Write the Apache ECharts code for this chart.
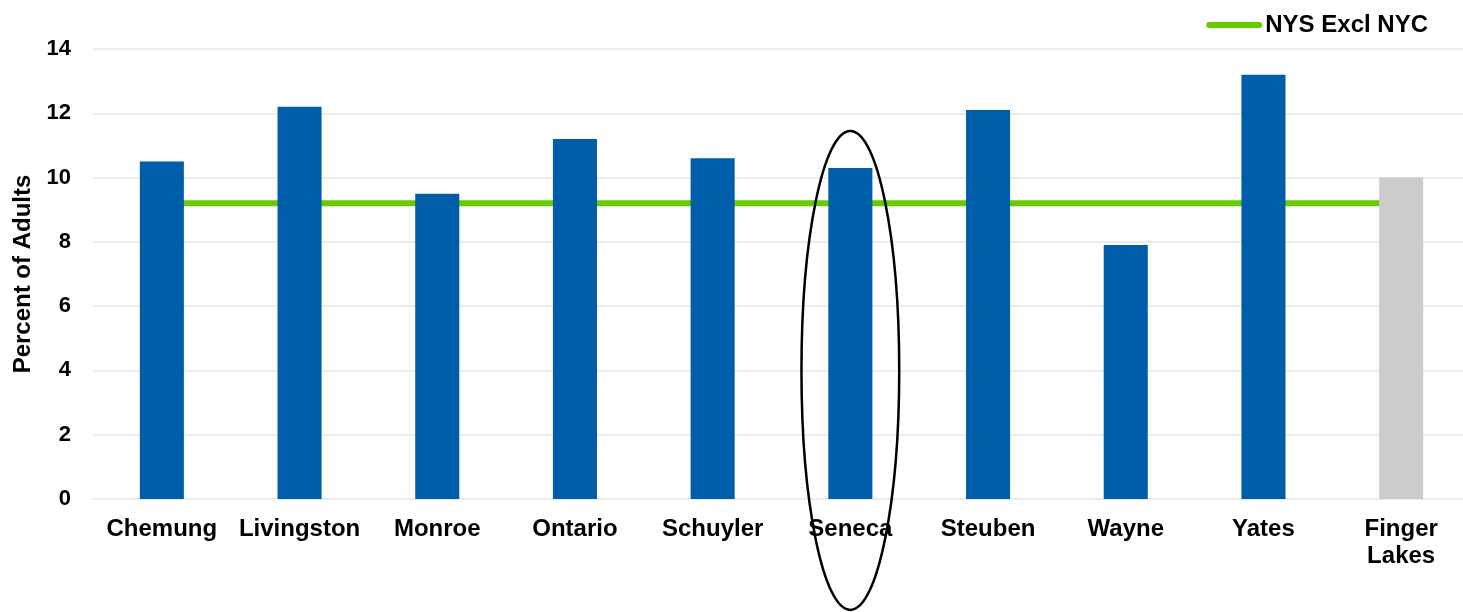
<!DOCTYPE html>
<html>
<head>
<meta charset="utf-8">
<title>Percent of Adults by County</title>
<script src="https://cdn.jsdelivr.net/npm/echarts@6/dist/echarts.min.js"></script>
<style>
  html, body { margin: 0; padding: 0; background: #ffffff; }
  #chart { width: 1463px; height: 612px; }
</style>
</head>
<body>
<div id="chart"></div>
<script>
// Counties of the Finger Lakes region plus the regional total
const categories = ['Chemung', 'Livingston', 'Monroe', 'Ontario', 'Schuyler', 'Seneca', 'Steuben', 'Wayne', 'Yates', 'Finger\nLakes'];
// Percent of adults per county
const countyValues = [10.5, 12.2, 9.5, 11.2, 10.6, 10.3, 12.1, 7.9, 13.2, 10.0];
// Statewide benchmark (New York State excluding NYC)
const nysExclNycValue = 9.2;
const benchmarkValues = categories.map(() => nysExclNycValue);
const yTicks = [0, 2, 4, 6, 8, 10, 12, 14];
// Highlighted county and the vertical span of its outline (in axis units)
const highlighted = 'Seneca';
const highlightSpan = [-3.45, 11.45];

const BLUE = '#005DAA';
const GREY = '#CCCCCC';
const GREEN = '#66CC00';
const FONT = '"Liberation Sans", Arial, sans-serif';

const chart = echarts.init(document.getElementById('chart'), null, { renderer: 'canvas' });

const barData = countyValues.map((v, i) => ({
  value: v,
  itemStyle: { color: i === countyValues.length - 1 ? GREY : BLUE }
}));

chart.setOption({
  animation: false,
  backgroundColor: '#ffffff',
  textStyle: { fontFamily: FONT },
  grid: { left: 93, right: -7, top: 49, bottom: 113, containLabel: false, outerBoundsMode: 'none' },
  legend: {
    data: [{ name: 'NYS Excl NYC', icon: 'path://M3,0 L53,0 A3,3 0 0 1 53,6 L3,6 A3,3 0 0 1 3,0 Z' }],
    right: 30,
    top: 8,
    itemWidth: 56,
    itemHeight: 6,
    itemGap: 4,
    textStyle: { fontFamily: FONT, fontWeight: 'bold', fontSize: 24, color: '#000', padding: [0, 0, 0, -2] }
  },
  xAxis: {
    type: 'category',
    data: categories,
    boundaryGap: true,
    axisLine: { show: true, lineStyle: { color: '#EBEBF0', width: 2 } },
    axisTick: { show: false },
    axisLabel: {
      interval: 0,
      margin: 17,
      color: '#000',
      fontFamily: FONT,
      fontWeight: 'bold',
      fontSize: 24,
      lineHeight: 27
    }
  },
  yAxis: {
    type: 'value',
    min: yTicks[0],
    max: yTicks[yTicks.length - 1],
    interval: 2,
    name: 'Percent of Adults',
    nameLocation: 'middle',
    nameGap: 58,
    nameRotate: 90,
    nameTextStyle: { color: '#000', fontFamily: FONT, fontWeight: 'bold', fontSize: 24 },
    axisLine: { show: false },
    axisTick: { show: false },
    splitLine: { show: true, lineStyle: { color: '#EBEBF0', width: 2 } },
    axisLabel: {
      margin: 22,
      color: '#000',
      fontFamily: FONT,
      fontWeight: 'bold',
      fontSize: 22,
      customValues: yTicks
    }
  },
  series: [
    {
      name: 'NYS Excl NYC',
      type: 'line',
      data: benchmarkValues,
      symbol: 'none',
      z: 1,
      lineStyle: { color: GREEN, width: 6 },
      itemStyle: { color: GREEN }
    },
    {
      name: 'Percent of Adults',
      type: 'bar',
      data: barData,
      barWidth: '32%',
      z: 2
    }
  ]
});

// Outline the highlighted county with an ellipse built from axis positions
function drawHighlight() {
  const cx = chart.convertToPixel({ xAxisIndex: 0 }, highlighted);
  const next = chart.convertToPixel({ xAxisIndex: 0 }, categories[categories.indexOf(highlighted) + 1]);
  const band = next - cx;
  const yTop = chart.convertToPixel({ yAxisIndex: 0 }, highlightSpan[1]);
  const yBot = chart.convertToPixel({ yAxisIndex: 0 }, highlightSpan[0]);
  chart.setOption({
    graphic: [{
      type: 'ellipse',
      z: 100,
      silent: true,
      shape: { cx: cx, cy: (yTop + yBot) / 2, rx: band * 0.355, ry: (yBot - yTop) / 2 },
      style: { fill: 'none', stroke: '#000', lineWidth: 2.5 }
    }]
  });
}
drawHighlight();
</script>
</body>
</html>
